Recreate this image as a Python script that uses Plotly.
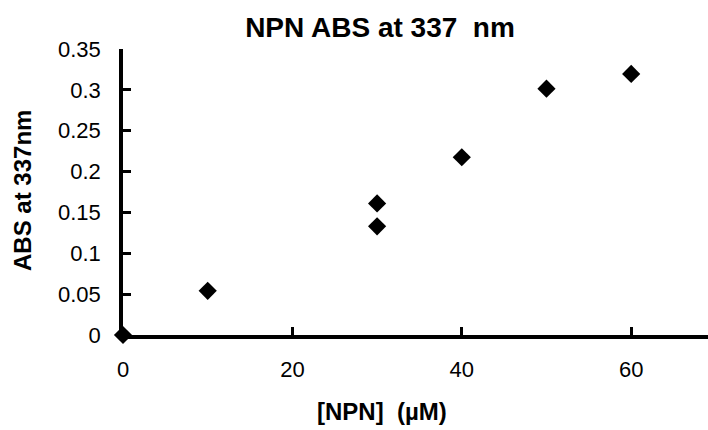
import plotly.graph_objects as go

# Data
npn_uM = [0, 10, 30, 30, 40, 50, 60]
abs_337 = [0.0, 0.054, 0.133, 0.161, 0.2175, 0.3015, 0.3195]

x_ticks = [0, 20, 40, 60]
y_ticks = [0, 0.05, 0.1, 0.15, 0.2, 0.25, 0.3, 0.35]
y_ticklabels = ["0", "0.05", "0.1", "0.15", "0.2", "0.25", "0.3", "0.35"]

FONT = "Arial, Liberation Sans, sans-serif"
W, H = 708, 430

fig = go.Figure()
fig.add_trace(go.Scatter(
    x=npn_uM, y=abs_337, mode="markers",
    marker=dict(symbol="diamond", size=14, color="black"),
    cliponaxis=False, showlegend=False,
))

fig.update_layout(
    width=W, height=H,
    margin=dict(l=123, r=0, t=49, b=95),
    paper_bgcolor="white", plot_bgcolor="white",
    font=dict(family=FONT, color="black", size=22),
    title=dict(text="<b>NPN ABS at 337  nm</b>", x=380/W, xanchor="center",
               y=1 - 27/H, yanchor="middle",
               font=dict(size=28, family=FONT, color="black")),
    annotations=[
        dict(text="<b>[NPN]  (µM)</b>", xref="paper", yref="paper",
             x=(382-123)/(W-123), y=-(411-335)/(335-49),
             xanchor="center", yanchor="middle", showarrow=False,
             font=dict(size=24, family=FONT, color="black")),
        dict(text="<b>ABS at 337nm</b>", xref="paper", yref="paper",
             x=-(123-22)/(W-123), y=(335-191)/(335-49), textangle=-90,
             xanchor="center", yanchor="middle", showarrow=False,
             font=dict(size=24, family=FONT, color="black")),
    ],
)
fig.update_xaxes(
    range=[0, 69.07], tickvals=x_ticks, ticktext=[str(v) for v in x_ticks],
    ticks="inside", ticklen=8, tickwidth=3, tickcolor="black",
    showline=True, linewidth=3.5, linecolor="black",
    showgrid=False, zeroline=False,
    tickfont=dict(size=22, family=FONT, color="black"),
    ticklabelstandoff=12,
)
fig.update_yaxes(
    range=[0, 0.35], tickvals=y_ticks, ticktext=y_ticklabels,
    ticks="inside", ticklen=8, tickwidth=3, tickcolor="black",
    showline=True, linewidth=3.5, linecolor="black",
    showgrid=False, zeroline=False,
    tickfont=dict(size=22, family=FONT, color="black"),
    ticklabelstandoff=14,
)

fig.write_html("out.html")
